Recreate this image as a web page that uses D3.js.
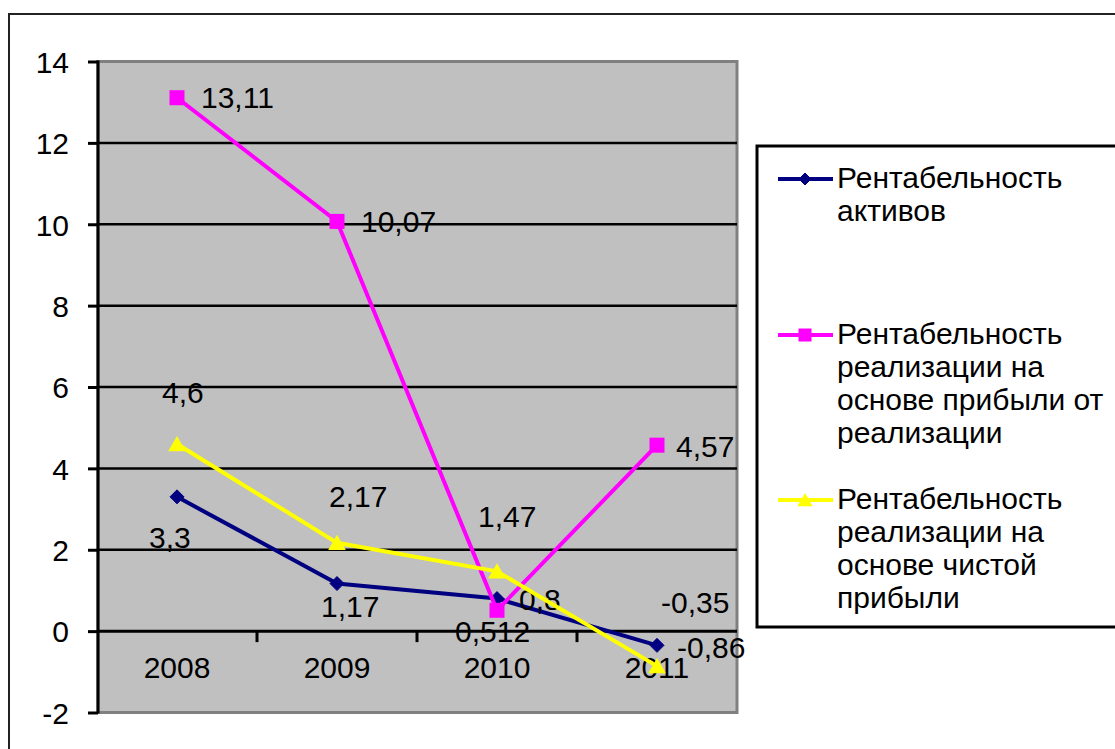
<html>
<head>
<meta charset="utf-8">
<script src="https://d3js.org/d3.v7.min.js"></script>
<style>
body {
	margin: 0;
	background: #fff;
}
text {
	font-family: "Liberation Sans", Arial, sans-serif;
	fill: #000;
}
</style>
</head>
<body>

<svg id="chart" width="1115" height="749"></svg>

<script>

var years = ["2008", "2009", "2010", "2011"]
var yTicks = [-2, 0, 2, 4, 6, 8, 10, 12, 14]

var seriesNames = [
	["Рентабельность", "активов"],
	["Рентабельность", "реализации на", "основе прибыли от", "реализации"],
	["Рентабельность", "реализации на", "основе чистой", "прибыли"]
]
var assets  = [3.3, 1.17, 0.8, -0.35]
var salesOp = [13.11, 10.07, 0.512, 4.57]
var salesNet = [4.6, 2.17, 1.47, -0.86]

// where each value label sits, relative to its point (left edge, baseline)
var labelOffsets = [
	[[-28, 51], [-16, 33], [22, 11], [4, -32]],
	[[24, 10], [24, 11], [-42, 32], [19, 12]],
	[[-15, -41], [-8, -36], [-19, -44], [20, -8]]
]

var colors = ["#000080", "#ff00ff", "#ffff00"]
var shapes = ["diamond", "square", "triangle"]

var series = [assets, salesOp, salesNet].map((vals, i) => ({
	name: seriesNames[i],
	color: colors[i],
	shape: shapes[i],
	values: vals.map((v, j) => ({year: years[j], value: v, off: labelOffsets[i][j]}))
}))

var svg = d3.select("#chart")
var plot = {left: 98, right: 737, top: 61.5, bottom: 712.5}
var fontSize = "30px"

var x = d3.scaleBand()
	.domain(years)
	.range([plot.left - 1, plot.right])

var y = d3.scaleLinear()
	.domain([-2, 14])
	.range([plot.bottom, plot.top])

var fmt = v => String(v).replace(".", ",")

// outer chart frame
svg.append("rect")
	.attr("x", 9).attr("y", 14)
	.attr("width", 1200).attr("height", 800)
	.attr("fill", "none")
	.attr("stroke", "#222")
	.attr("stroke-width", 2)

// plot area
svg.append("rect")
	.attr("x", plot.left).attr("y", plot.top)
	.attr("width", plot.right - plot.left).attr("height", plot.bottom - plot.top)
	.attr("fill", "#c0c0c0")
	.attr("stroke", "#808080")
	.attr("stroke-width", 3)

// gridlines
svg.append("g")
	.selectAll("line")
	.data(yTicks.filter(t => t > -2 && t < 14))
	.enter().append("line")
		.attr("x1", plot.left).attr("x2", plot.right)
		.attr("y1", d => y(d)).attr("y2", d => y(d))
		.attr("stroke", "#000")
		.attr("stroke-width", d => d == 0 ? 3 : 2.5)

// y axis
var yAxis = svg.append("g")
	.attr("transform", `translate(${plot.left},0)`)
	.call(d3.axisLeft(y).tickValues(yTicks).tickSize(10).tickPadding(19).tickFormat(fmt))

yAxis.select(".domain").attr("stroke", "#000").attr("stroke-width", 3)
	.attr("d", `M0,${plot.top - 1}V${plot.bottom + 1}`)
yAxis.selectAll(".tick line").attr("stroke", "#000").attr("stroke-width", 3)
yAxis.selectAll(".tick text")
	.style("font-size", fontSize)
	.style("font-family", "'Liberation Sans', Arial, sans-serif")
	.attr("dy", "0.36em")

// x axis on the zero line
var xAxis = svg.append("g")
	.attr("transform", `translate(0,${y(0)})`)

xAxis.selectAll("line")
	.data(years.slice(1))
	.enter().append("line")
		.attr("x1", d => x(d)).attr("x2", d => x(d))
		.attr("y1", 0).attr("y2", 11)
		.attr("stroke", "#000")
		.attr("stroke-width", 3)

xAxis.selectAll("text")
	.data(years)
	.enter().append("text")
		.attr("x", d => x(d) + x.bandwidth() / 2)
		.attr("y", 47)
		.attr("text-anchor", "middle")
		.style("font-size", fontSize)
		.text(d => d)

var line = d3.line()
	.x(d => x(d.year) + x.bandwidth() / 2)
	.y(d => y(d.value))

function marker(sel, shape, color, s) {
	if (shape == "diamond") {
		sel.append("path").attr("d", `M0,${-s}L${s},0L0,${s}L${-s},0Z`)
			.attr("fill", color).attr("stroke", color).attr("stroke-width", 1)
	} else if (shape == "square") {
		sel.append("rect").attr("x", -s).attr("y", -s).attr("width", 2 * s).attr("height", 2 * s)
			.attr("fill", color)
	} else {
		sel.append("path").attr("d", `M0,${-s}L${s * 1.1},${s * 0.9}L${-s * 1.1},${s * 0.9}Z`)
			.attr("fill", color)
	}
}

var sizes = {diamond: 7, square: 7.5, triangle: 8}

var groups = svg.selectAll("g.series")
	.data(series)
	.enter().append("g")
		.attr("class", "series")

groups.append("path")
	.attr("d", d => line(d.values))
	.attr("fill", "none")
	.attr("stroke", d => d.color)
	.attr("stroke-width", 4)

groups.each(function(s) {
	d3.select(this).selectAll("g.pt")
		.data(s.values)
		.enter().append("g")
			.attr("class", "pt")
			.attr("transform", d => `translate(${line.x()(d)},${line.y()(d)})`)
			.each(function() { marker(d3.select(this), s.shape, s.color, sizes[s.shape]) })
})

// value labels
groups.each(function(s) {
	d3.select(this).selectAll("text.lbl")
		.data(s.values)
		.enter().append("text")
			.attr("class", "lbl")
			.attr("x", d => line.x()(d) + d.off[0])
			.attr("y", d => line.y()(d) + d.off[1])
			.style("font-size", fontSize)
			.text(d => fmt(d.value))
})

// legend
var legend = svg.append("g")

legend.append("rect")
	.attr("x", 757).attr("y", 146)
	.attr("width", 400).attr("height", 481)
	.attr("fill", "#fff")
	.attr("stroke", "#000")
	.attr("stroke-width", 3)

var legendTop = [188, 344, 509]

var entries = legend.selectAll("g.entry")
	.data(series)
	.enter().append("g")
		.attr("class", "entry")
		.attr("transform", (d, i) => `translate(0,${legendTop[i]})`)

entries.append("line")
	.attr("x1", 778).attr("x2", 833)
	.attr("y1", -9).attr("y2", -9)
	.attr("stroke", d => d.color)
	.attr("stroke-width", 4)

entries.append("g")
	.attr("transform", "translate(805,-9)")
	.each(function(s) { marker(d3.select(this), s.shape, s.color, sizes[s.shape] - 1) })

entries.append("text")
	.attr("x", 837)
	.style("font-size", fontSize)
	.selectAll("tspan")
	.data(d => d.name)
	.enter().append("tspan")
		.attr("x", 837)
		.attr("dy", (d, i) => i == 0 ? 0 : 33)
		.text(d => d)

</script>

</body>
</html>
